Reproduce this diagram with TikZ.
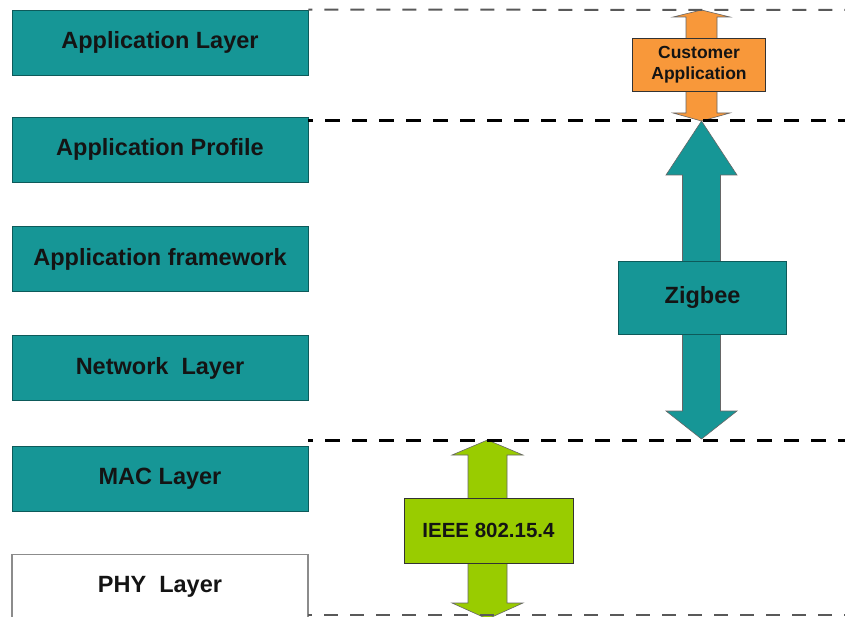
\documentclass[tikz,border=0pt]{standalone}
\usepackage{fontspec}
\setmainfont{Liberation Sans}
\usepackage{xcolor}

\definecolor{zbteal}{RGB}{22,150,150}
\definecolor{zborange}{RGB}{248,152,58}
\definecolor{zbgreen}{RGB}{153,204,0}

\begin{document}
\begin{tikzpicture}[x=1pt,y=1pt,
    layer/.style={draw=zbteal!60!black, line width=0.8, fill=zbteal,
      minimum width=296, minimum height=65, inner sep=0pt,
      font=\bfseries\fontsize{23.5}{28}\selectfont, text=black!92},
    phylayer/.style={layer, fill=white, draw=black!45, line width=1.5},
    tag/.style={draw=black!80, line width=0.8, inner sep=0pt,
      font=\bfseries\fontsize{23.5}{28}\selectfont, text=black!92, align=center},
    level/.style={black, line width=3, dash pattern=on 15 off 12, dash phase=10},
    thinlevel/.style={black!65, line width=2, dash pattern=on 14 off 12, dash phase=10},
    blockarrow/.style={draw=black!60, line width=0.6}]
  \useasboundingbox (0,0) rectangle (845,-617);

  % protocol layers
  \node[layer] (app) at (160,-42.5) {Application Layer};
  \node[layer] (prof) at (160,-149.5) {Application Profile};
  \node[layer] (frame) at (160,-259) {Application framework};
  \node[layer] (net) at (160,-368) {Network\ \ Layer};
  \node[layer] (mac) at (160,-479) {MAC Layer};
  \node[phylayer] (phy) at (160,-587) {PHY\ \ Layer};

  % orange arrow
  \draw [blockarrow, fill=zborange] (701.5,-10) -- (730,-17) -- (717,-17) -- (717,-113)
    -- (730,-113) -- (701.5,-121) -- (673,-113) -- (686,-113) -- (686,-17) -- (673,-17) -- cycle;
  % teal arrow
  \draw [blockarrow, fill=zbteal] (701.5,-121) -- (737,-175) -- (720.5,-175) -- (720.5,-411)
    -- (737,-411) -- (701.5,-439) -- (666,-411) -- (682.5,-411) -- (682.5,-175) -- (666,-175) -- cycle;
  % green arrow
  \draw [blockarrow, fill=zbgreen] (487.5,-440) -- (523,-455) -- (507,-455) -- (507,-603)
    -- (523,-603) -- (487.5,-619) -- (452,-603) -- (468,-603) -- (468,-455) -- (452,-455) -- cycle;

  \node[tag, fill=zborange, minimum width=133, minimum height=53,
    font=\bfseries\fontsize{17.5}{21}\selectfont] (cust) at (699,-64.5) {Customer\\Application};
  \node[tag, fill=zbteal, draw=zbteal!60!black, minimum width=168, minimum height=73] (zig) at (702.5,-297.5) {Zigbee};
  \node[tag, fill=zbgreen, minimum width=169, minimum height=65,
    font=\bfseries\fontsize{20.5}{24}\selectfont] (ieee) at (488.5,-530.5) {IEEE 802.15.4};

  % level lines
  \draw [thinlevel] (app.north east) -- (860,-10);
  \draw [level] (308,-121) -- (860,-121);
  \draw [level] (308,-440) -- (860,-440);
  \draw [thinlevel] (308,-615) -- (860,-615);
\end{tikzpicture}
\end{document}
